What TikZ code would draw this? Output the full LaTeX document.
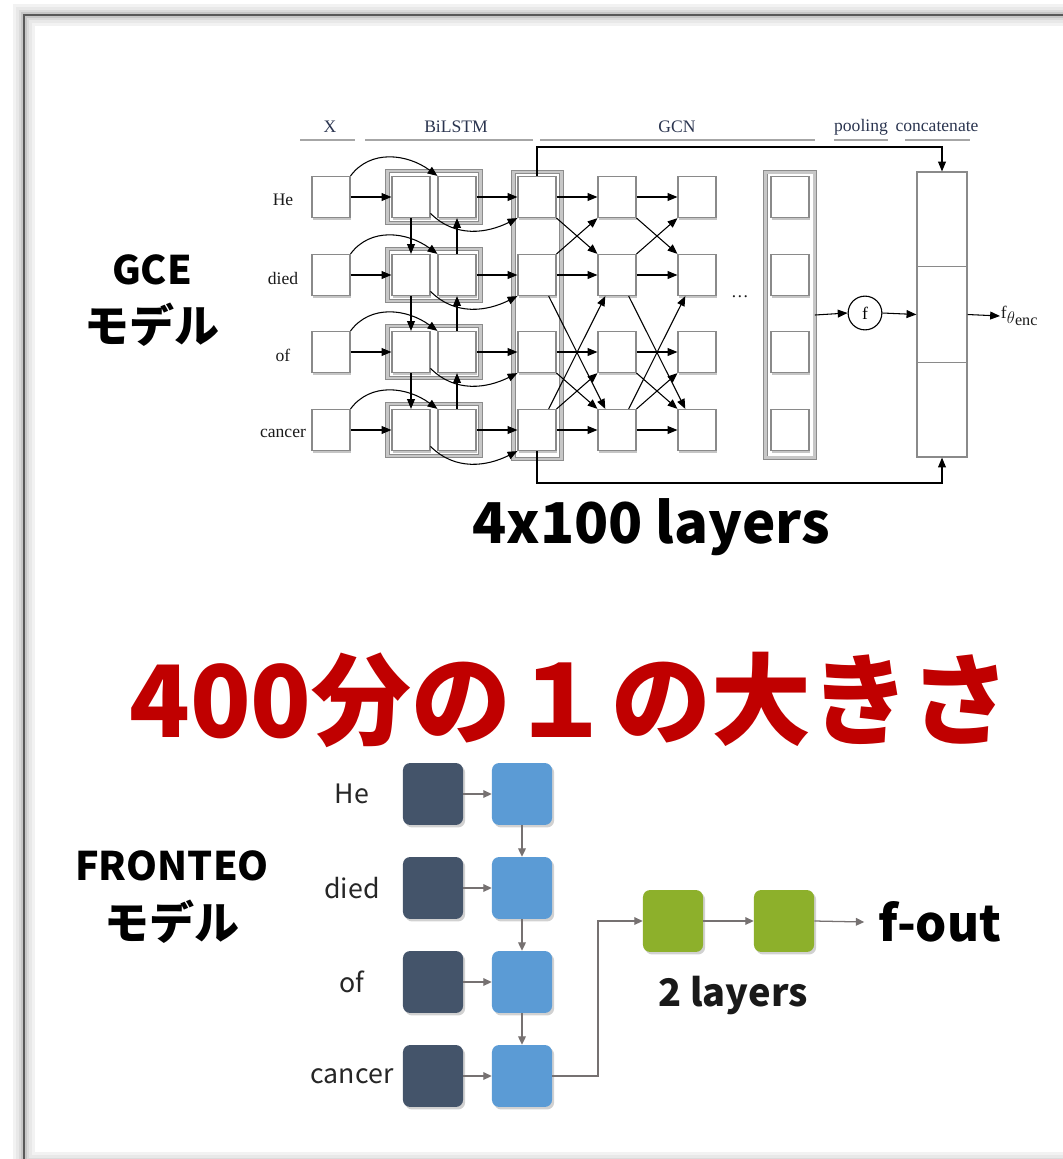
\documentclass[tikz,border=0pt]{standalone}
\usepackage{fontspec}
\setmainfont{Liberation Serif}
\newfontfamily\jpfont{Noto Sans CJK JP}
\usepackage{xcolor}
\usetikzlibrary{arrows.meta,positioning,calc,shadows}
\definecolor{ink}{HTML}{1A1A1A}
\definecolor{headink}{HTML}{2B3550}
\definecolor{boxline}{HTML}{8A8A8A}
\definecolor{slate}{HTML}{44546A}
\definecolor{skyblue}{HTML}{5B9BD5}
\definecolor{leaf}{HTML}{8DB02B}
\definecolor{arrgray}{HTML}{767171}
\definecolor{titlered}{HTML}{C00000}
\tikzset{
  pageframe/.style={draw=black!65, line width=1.2pt},
  colhead/.style={text=headink, font=\fontsize{12.5}{14}\selectfont},
  headrule/.style={draw=black!35, line width=0.9pt},
  wordlbl/.style={text=ink, font=\fontsize{12.5}{14}\selectfont},
  cell/.style={draw=boxline, fill=white, line width=0.8pt, minimum width=27pt, minimum height=29.2pt, inner sep=0pt,
    drop shadow={shadow xshift=1pt, shadow yshift=-1.6pt, fill=black!45}},
  grp/.style={draw=black!45, line width=0.5pt, double=black!22, double distance=2pt, minimum width=66pt, minimum height=37pt, inner sep=0pt},
  arr/.style={-{Triangle[length=7pt,width=5.6pt]}, draw=black, line width=0.75pt},
  fcirc/.style={circle, draw=black, line width=0.8pt, minimum size=24pt, inner sep=0pt, font=\fontsize{12.5}{14}\selectfont},
  catbox/.style={draw=boxline, fill=white, line width=0.8pt, minimum width=35.6pt, minimum height=202.7pt, inner sep=0pt,
    drop shadow={shadow xshift=0.8pt, shadow yshift=-1pt, fill=black!30}},
  catline/.style={draw=boxline, line width=0.8pt},
  darkcell/.style={fill=slate, rounded corners=5pt, minimum width=42.7pt, minimum height=44pt, inner sep=0pt,
    drop shadow={shadow xshift=1.5pt, shadow yshift=-1.8pt, fill=black, opacity=0.18}},
  bluecell/.style={darkcell, fill=skyblue},
  greencell/.style={darkcell, fill=leaf},
  garr/.style={-{Triangle[length=6pt,width=5.5pt]}, draw=arrgray, line width=0.9pt},
  wordsans/.style={text=black!85, font=\jpfont\fontsize{19}{22}\selectfont},
  bigsans/.style={text=black, font=\jpfont\bfseries\fontsize{28}{32}\selectfont},
  bigjp/.style={text=black, font=\jpfont\bfseries\fontsize{32}{36}\selectfont},
  midsans/.style={text=black!90, font=\jpfont\bfseries\fontsize{27}{30}\selectfont},
  foutlbl/.style={text=black, font=\jpfont\bfseries\fontsize{35}{40}\selectfont, inner sep=0pt},
  titletxt/.style={text=titlered, font=\jpfont\bfseries\fontsize{71}{80}\selectfont}
}

\begin{document}
\begin{tikzpicture}[x=0.025cm, y=-0.025cm]
  \useasboundingbox (0,0) rectangle (1063,1159);
  % Page frame with soft shadow
  \foreach \w/\c in {16/5,11/9,7/14,4/22}
    \draw[line width=\w pt, black!\c] (24,15) rectangle (1110,1163);
  \draw[pageframe] (24,15) rectangle (1110,1163);

  % ---- GCE model ----
  \foreach \t/\cx/\a/\b in {X/330/300/355, BiLSTM/456/365/533, GCN/677/540/815, pooling/861/834/888, concatenate/937/905/970} {
    \node[colhead] (head\t) at (\cx,127) {\t};
    \draw[headrule] (\a,140) -- (\b,140);
  }

  % Frames behind the cells
  \node[grp, minimum width=34pt, minimum height=204pt] (gcol) at (537.5,315.5) {};
  \node[grp, minimum width=35pt, minimum height=203pt] (pcol) at (790,315) {};

  \foreach \w/\y [count=\i] in {He/197,died/275,of/352,cancer/430} {
    \node[wordlbl] (w\i) at (283,\y+3) {\w};
    \node[grp] (bl\i) at (434,\y) {};
    \node[cell] (xin\i) at (331,\y) {};
    \node[cell] (fw\i) at (411,\y) {};
    \node[cell] (bw\i) at (457,\y) {};
    \node[cell] (ga\i) at (537,\y) {};
    \node[cell] (gb\i) at (617,\y) {};
    \node[cell] (gc\i) at (697,\y) {};
    \node[cell] (pl\i) at (790,\y) {};
  }

  % BiLSTM
  \foreach \i in {1,...,4} {
    \draw[arr] (xin\i.east) -- (fw\i.west);
    \draw[arr] (xin\i.north east) .. controls +(20,-27) and +(-30,-22) .. (bw\i.north west);
    \draw[arr] (bw\i.east) -- (ga\i.west);
    \draw[arr] (fw\i.-40) .. controls +(25,25) and +(-30,15) .. (ga\i.south west);
    \draw[arr] (ga\i.east) -- (gb\i.west);
    \draw[arr] (gb\i.east) -- (gc\i.west);
  }
  \foreach \i/\j in {1/2,2/3,3/4} {
    \draw[arr] (fw\i.south) -- (fw\j.north);
    \draw[arr] (bw\j.north) -- (bw\i.south);
  }

  % GCN edges
  \foreach \p/\q in {ga/gb, gb/gc} {
    \draw[arr] (\p1.south east) -- (\q2.north west);
    \draw[arr] (\p2.north east) -- (\q1.south west);
    \draw[arr] (\p3.south east) -- (\q4.north west);
    \draw[arr] (\p4.north east) -- (\q3.south west);
    \draw[arr] (\p2.-61) -- (\q4.119);
    \draw[arr] (\p4.61) -- (\q2.-119);
  }
  \node[wordlbl] (dots) at (740,297) {\ldots};

  % pooling + concatenate
  \node[fcirc] (fpool) at (865,313) {f};
  \node[catbox] (cat) at (942,314.5) {};
  \draw[catline] ($(cat.north west)!1/3!(cat.south west)$) -- ($(cat.north east)!1/3!(cat.south east)$);
  \draw[catline] ($(cat.north west)!2/3!(cat.south west)$) -- ($(cat.north east)!2/3!(cat.south east)$);
  \draw[arr] (pcol.east) -- (fpool.west);
  \draw[arr] (fpool.east) -- (cat.west);
  \node[wordlbl, anchor=west, inner sep=0.5pt] (fenc) at (1000,316)
    {f\raisebox{-0.3em}{\fontsize{11.5}{12}\selectfont$\theta$\raisebox{-0.15em}{enc}}};
  \draw[arr] (cat.east) -- (fenc.west);

  \coordinate (cattop) at (942,147);
  \coordinate (catbot) at (942,483);
  \draw[arr] (ga1.north) |- (cattop) -- (cat.north);
  \draw[arr] (ga4.south) |- (catbot) -- (cat.south);

  \node[bigsans] (gce) at (152,270) {GCE};
  \node[bigjp] (gcejp) at (152,325) {モデル};
  \node[bigsans, font=\jpfont\bfseries\fontsize{40}{46}\selectfont] (layers) at (651,527) {4x100 layers};

  % ---- title ----
  \node[titletxt] (ratio) at (570,700) {400分の１の大きさ};

  % ---- FRONTEO model ----
  \node[bigsans] (fr) at (172,866) {FRONTEO};
  \node[bigjp] (frjp) at (172,922) {モデル};

  \foreach \w/\y [count=\i] in {He/794,died/888,of/982,cancer/1076} {
    \node[wordsans] (v\i) at (352,\y) {\w};
    \node[darkcell] (em\i) at (433,\y) {};
    \node[bluecell] (ly\i) at (522,\y) {};
    \draw[garr] (em\i.east) -- (ly\i.west);
  }
  \foreach \i/\j in {1/2,2/3,3/4}
    \draw[garr] (ly\i.south) -- (ly\j.north);

  \node[greencell] (gr1) at (673,921) {};
  \node[greencell] (gr2) at (784,921) {};
  \coordinate (bend) at (598,921);
  \draw[garr] (ly4.east) -| (bend) -- (gr1.west);
  \draw[garr] (gr1.east) -- (gr2.west);
  \node[foutlbl] (fo) at (940,922) {f-out};
  \draw[garr] (gr2.east) -- ([xshift=-10pt]fo.west);
  \node[midsans] (two) at (733,995) {2 layers};
\end{tikzpicture}
\end{document}
